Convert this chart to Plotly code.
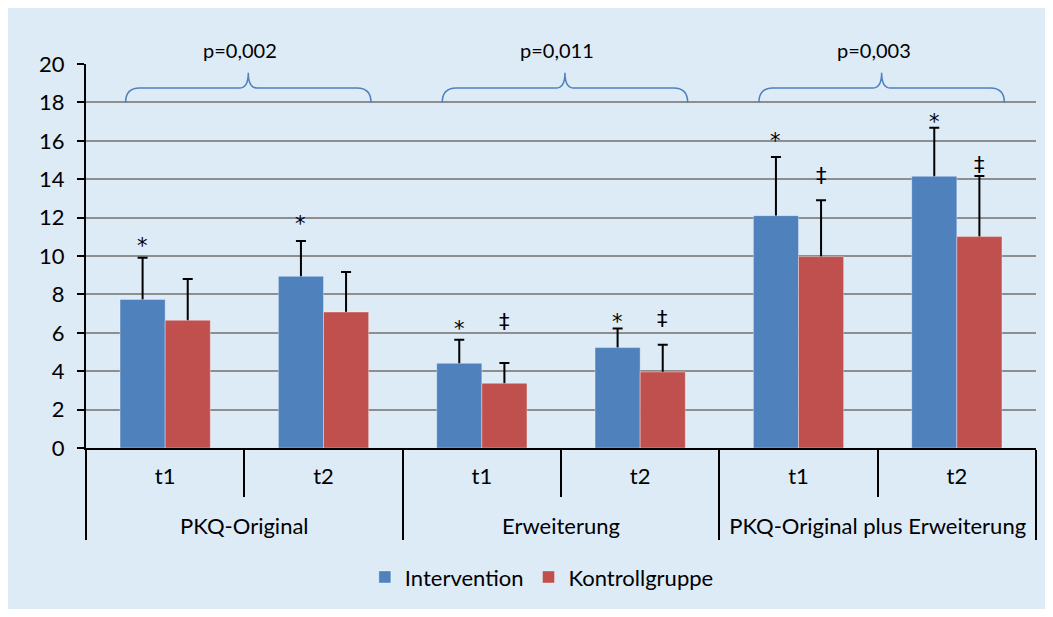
import plotly.graph_objects as go

groups = ["PKQ-Original", "Erweiterung", "PKQ-Original plus Erweiterung"]
times = ["t1", "t2"]

intervention = [7.74, 8.94, 4.41, 5.23, 12.10, 14.15]
intervention_sd = [2.17, 1.84, 1.23, 0.99, 3.06, 2.53]
kontroll = [6.65, 7.08, 3.37, 3.96, 9.97, 11.01]
kontroll_sd = [2.15, 2.09, 1.06, 1.42, 2.93, 3.16]

# significance markers (symbol, height in y units where the symbol is centred)
int_marks = ["*", "*", "*", "*", "*", "*"]
int_mark_y = [10.73, 11.88, 6.41, 6.77, 16.2, 17.19]
kon_marks = ["", "", "‡", "‡", "‡", "‡"]
kon_mark_y = [0, 0, 6.56, 6.72, 14.17, 14.74]

p_values = ["p=0,002", "p=0,011", "p=0,003"]

# group labels on a second line so they sit below the t1/t2 row
x_groups = ["<br>" + g for g in groups for _ in times]
x_times = [t for _ in groups for t in times]
x_cat = [x_groups, x_times]

BLUE = "#4F81BD"
RED = "#C0504D"
BG = "#DDEBF7"
FONT = "Lato"

fig = go.Figure()
# error bars first (symmetric), bars drawn above hide the lower half
for vals, sds, og in [(intervention, intervention_sd, "a"), (kontroll, kontroll_sd, "b")]:
    fig.add_trace(go.Bar(
        x=x_cat, y=vals, offsetgroup=og, showlegend=False,
        marker=dict(color="rgba(0,0,0,0)", line=dict(width=0)), hoverinfo="skip",
        error_y=dict(type="data", array=sds, color="black", thickness=2, width=5),
    ))
fig.add_trace(go.Bar(
    x=x_cat, y=intervention, name="Intervention", offsetgroup="a",
    marker=dict(color=BLUE, line=dict(color="rgba(255,255,255,0.35)", width=1)),
))
fig.add_trace(go.Bar(
    x=x_cat, y=kontroll, name="Kontrollgruppe", offsetgroup="b",
    marker=dict(color=RED, line=dict(color="rgba(255,255,255,0.35)", width=1)),
))

n_cat = len(x_times)
bargap = 0.43
bar_w = (1 - bargap) / 2


def idx_to_paper(i):
    return (i + 0.5) / n_cat


annotations = []
for i in range(n_cat):
    if int_marks[i]:
        annotations.append(dict(
            x=idx_to_paper(i - bar_w / 2), xref="paper", xanchor="center",
            y=int_mark_y[i], yref="y", yanchor="middle",
            text=int_marks[i], showarrow=False, yshift=-4,
            font=dict(family="DejaVu Sans", size=21, color="black")))
    if kon_marks[i]:
        annotations.append(dict(
            x=idx_to_paper(i + bar_w / 2), xref="paper", xanchor="center",
            y=kon_mark_y[i], yref="y", yanchor="middle",
            text=kon_marks[i], showarrow=False,
            font=dict(family="DejaVu Sans", size=21, color="black")))

shapes = []
y_end, y_mid, y_top = 18.0, 18.75, 19.55
rx = 14 / 950
ra = 9 / 950
for g, p in enumerate(p_values):
    gc = 2 * g + 0.5
    x0 = idx_to_paper(gc - 0.75)
    x1 = idx_to_paper(gc + 0.80)
    xc = (x0 + x1) / 2
    path = (f"M {x0},{y_end} Q {x0},{y_mid} {x0 + rx},{y_mid} "
            f"L {xc - ra},{y_mid} Q {xc},{y_mid} {xc},{y_top} "
            f"Q {xc},{y_mid} {xc + ra},{y_mid} "
            f"L {x1 - rx},{y_mid} Q {x1},{y_mid} {x1},{y_end}")
    shapes.append(dict(type="path", xref="paper", yref="y", path=path,
                       line=dict(color="#4F81BD", width=1.5)))
    annotations.append(dict(x=xc, xref="paper", xanchor="center", xshift=-8,
                            y=20, yref="y", yanchor="bottom", yshift=0,
                            text=p, showarrow=False,
                            font=dict(family=FONT, size=20, color="black")))

fig.update_layout(
    width=1053, height=601,
    margin=dict(l=78, r=25, t=56, b=161),
    paper_bgcolor=BG,
    plot_bgcolor="rgba(0,0,0,0)",
    barmode="group", bargap=bargap, bargroupgap=0,
    font=dict(family=FONT, size=22, color="black"),
    showlegend=True,
    legend=dict(orientation="h", xref="container", yref="container",
                x=0.507, xanchor="center", y=0.053, yanchor="middle",
                font=dict(family=FONT, size=22), bgcolor="rgba(0,0,0,0)",
                itemwidth=30, traceorder="normal"),
    shapes=shapes,
    annotations=annotations,
)
fig.update_yaxes(range=[0, 20], dtick=2, showgrid=True, gridcolor="#8E8E8E",
                 gridwidth=1.5, showline=True, linecolor="black", linewidth=2,
                 ticks="outside", ticklen=7, tickwidth=2, tickcolor="black",
                 ticklabelstandoff=8, zeroline=False, automargin=False,
                 tickfont=dict(family=FONT, size=22))
fig.update_xaxes(showline=True, linecolor="black", linewidth=2,
                 ticks="outside", ticklen=47, tickwidth=1.5, tickcolor="black",
                 showdividers=True, dividercolor="black", dividerwidth=1.5,
                 ticklabelstandoff=8, automargin=False,
                 tickfont=dict(family=FONT, size=22))

fig.write_html("out.html")
